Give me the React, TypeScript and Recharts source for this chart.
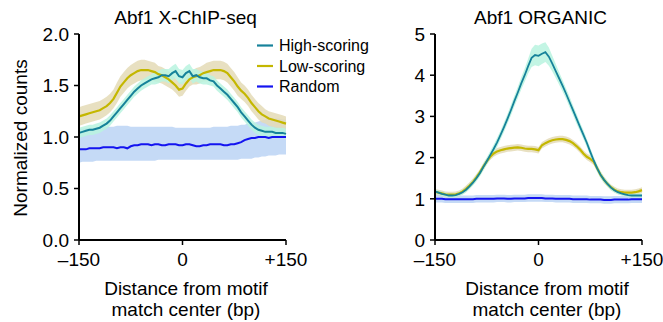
import React from "react";
import { ComposedChart, Area, Line, XAxis, YAxis } from "recharts";

// Distance from motif match center (bp)
const positions = [
  -150, -145, -140, -135, -130, -125, -120, -115, -110, -105, -100, -95, -90, -85, -80, -75, -70, -65, -60, -55,
  -50, -45, -40, -35, -30, -25, -20, -15, -10, -5, 0, 5, 10, 15, 20, 25, 30, 35, 40, 45,
  50, 55, 60, 65, 70, 75, 80, 85, 90, 95, 100, 105, 110, 115, 120, 125, 130, 135, 140, 145, 150,
];

const seriesNames = ["High-scoring", "Low-scoring", "Random"];
const xTicks = [-150, 0, 150];
const xTickLabels = ["\u2013150", "0", "+150"];
const chipTicks = [0, 0.5, 1, 1.5, 2];
const organicTicks = [0, 1, 2, 3, 4, 5];

// ---- Abf1 X-ChIP-seq ----
const chipHigh = [
  1.04, 1.05, 1.06, 1.07, 1.07, 1.08, 1.09, 1.11, 1.13, 1.16, 1.2, 1.24, 1.28, 1.32, 1.36, 1.4, 1.44, 1.47, 1.5, 1.52,
  1.54, 1.56, 1.57, 1.58, 1.6, 1.6, 1.59, 1.62, 1.64, 1.59, 1.58, 1.62, 1.64, 1.59, 1.6, 1.58, 1.57, 1.57, 1.55, 1.54,
  1.5, 1.47, 1.44, 1.41, 1.37, 1.33, 1.29, 1.24, 1.2, 1.16, 1.12, 1.09, 1.07, 1.06, 1.05, 1.05, 1.05, 1.04, 1.04, 1.04, 1.03,
];
const chipHighSpread = [
  0.05, 0.05, 0.05, 0.05, 0.05, 0.05, 0.05, 0.05, 0.05, 0.05, 0.05, 0.05, 0.05, 0.05, 0.05, 0.05, 0.05, 0.05, 0.05, 0.05,
  0.05, 0.05, 0.06, 0.06, 0.06, 0.06, 0.07, 0.07, 0.07, 0.07, 0.07, 0.07, 0.07, 0.07, 0.06, 0.06, 0.06, 0.06, 0.05, 0.05,
  0.05, 0.05, 0.05, 0.05, 0.05, 0.05, 0.05, 0.05, 0.05, 0.05, 0.05, 0.05, 0.05, 0.05, 0.05, 0.05, 0.05, 0.05, 0.05, 0.05, 0.05,
];
const chipLow = [
  1.2, 1.21, 1.22, 1.23, 1.24, 1.25, 1.26, 1.28, 1.3, 1.33, 1.37, 1.43, 1.49, 1.53, 1.57, 1.6, 1.62, 1.64, 1.65, 1.65,
  1.65, 1.64, 1.63, 1.61, 1.6, 1.58, 1.56, 1.53, 1.5, 1.46, 1.47, 1.52, 1.56, 1.58, 1.59, 1.6, 1.62, 1.63, 1.64, 1.65,
  1.65, 1.65, 1.64, 1.62, 1.58, 1.54, 1.49, 1.45, 1.42, 1.38, 1.33, 1.29, 1.25, 1.22, 1.2, 1.18, 1.17, 1.16, 1.15, 1.14, 1.13,
];
const chipLowSpread = [
  0.09, 0.09, 0.09, 0.09, 0.09, 0.09, 0.09, 0.09, 0.09, 0.09, 0.09, 0.1, 0.1, 0.1, 0.1, 0.1, 0.1, 0.1, 0.1, 0.1,
  0.09, 0.09, 0.09, 0.08, 0.08, 0.08, 0.08, 0.07, 0.07, 0.07, 0.07, 0.07, 0.07, 0.07, 0.08, 0.08, 0.08, 0.09, 0.09, 0.09,
  0.09, 0.09, 0.09, 0.09, 0.09, 0.09, 0.09, 0.08, 0.08, 0.08, 0.08, 0.08, 0.08, 0.08, 0.07, 0.07, 0.07, 0.07, 0.07, 0.07, 0.07,
];
const chipRandom = [
  0.88, 0.88, 0.88, 0.89, 0.89, 0.89, 0.89, 0.9, 0.9, 0.9, 0.9, 0.89, 0.9, 0.9, 0.89, 0.91, 0.92, 0.92, 0.93, 0.93,
  0.93, 0.92, 0.93, 0.93, 0.92, 0.92, 0.93, 0.93, 0.93, 0.92, 0.92, 0.93, 0.93, 0.92, 0.91, 0.91, 0.92, 0.92, 0.93, 0.93,
  0.93, 0.93, 0.92, 0.92, 0.93, 0.93, 0.94, 0.95, 0.97, 0.98, 0.99, 0.99, 1.0, 1.0, 1.0, 0.99, 1.0, 1.0, 1.0, 1.0, 1.0,
];
const chipRandomLow = [
  0.75, 0.76, 0.76, 0.76, 0.76, 0.77, 0.77, 0.77, 0.77, 0.77, 0.77, 0.77, 0.77, 0.77, 0.77, 0.77, 0.77, 0.77, 0.77, 0.77,
  0.77, 0.77, 0.77, 0.78, 0.78, 0.78, 0.78, 0.78, 0.78, 0.78, 0.78, 0.78, 0.78, 0.78, 0.78, 0.78, 0.78, 0.78, 0.78, 0.78,
  0.78, 0.78, 0.78, 0.78, 0.78, 0.78, 0.78, 0.79, 0.79, 0.79, 0.79, 0.8, 0.8, 0.81, 0.81, 0.82, 0.82, 0.82, 0.83, 0.83, 0.83,
];
const chipRandomHigh = [
  1.08, 1.08, 1.09, 1.09, 1.09, 1.09, 1.09, 1.1, 1.1, 1.1, 1.1, 1.11, 1.11, 1.11, 1.11, 1.1, 1.1, 1.1, 1.1, 1.1,
  1.1, 1.1, 1.1, 1.1, 1.1, 1.1, 1.1, 1.1, 1.09, 1.09, 1.09, 1.09, 1.09, 1.09, 1.09, 1.09, 1.09, 1.09, 1.09, 1.1,
  1.1, 1.1, 1.1, 1.1, 1.11, 1.11, 1.11, 1.12, 1.12, 1.13, 1.13, 1.14, 1.15, 1.16, 1.17, 1.18, 1.18, 1.18, 1.18, 1.17, 1.17,
];

// ---- Abf1 ORGANIC ----
const orgHigh = [
  1.18, 1.15, 1.12, 1.1, 1.08, 1.08, 1.09, 1.12, 1.16, 1.22, 1.3, 1.39, 1.5, 1.62, 1.77, 1.91, 2.06, 2.21, 2.37, 2.55,
  2.74, 2.94, 3.15, 3.37, 3.58, 3.8, 4.0, 4.22, 4.42, 4.49, 4.47, 4.52, 4.56, 4.45, 4.28, 4.1, 3.92, 3.74, 3.55, 3.35,
  3.15, 2.95, 2.75, 2.56, 2.36, 2.14, 1.93, 1.74, 1.58, 1.46, 1.36, 1.27, 1.21, 1.16, 1.13, 1.11, 1.09, 1.08, 1.08, 1.08, 1.08,
];
const orgHighSpread = [
  0.05, 0.05, 0.05, 0.05, 0.05, 0.05, 0.05, 0.05, 0.06, 0.06, 0.07, 0.07, 0.08, 0.08, 0.09, 0.09, 0.1, 0.1, 0.11, 0.11,
  0.12, 0.12, 0.13, 0.13, 0.14, 0.15, 0.16, 0.18, 0.22, 0.25, 0.25, 0.25, 0.24, 0.22, 0.19, 0.17, 0.15, 0.14, 0.13, 0.13,
  0.12, 0.12, 0.11, 0.11, 0.1, 0.1, 0.09, 0.09, 0.08, 0.07, 0.07, 0.06, 0.06, 0.05, 0.05, 0.05, 0.05, 0.05, 0.05, 0.05, 0.05,
];
const orgLow = [
  1.17, 1.15, 1.13, 1.11, 1.1, 1.1, 1.11, 1.13, 1.18, 1.24, 1.32, 1.41, 1.52, 1.64, 1.78, 1.91, 2.02, 2.1, 2.15, 2.18,
  2.2, 2.22, 2.23, 2.24, 2.25, 2.24, 2.22, 2.21, 2.21, 2.2, 2.18, 2.3, 2.35, 2.39, 2.42, 2.44, 2.45, 2.45, 2.43, 2.4,
  2.35, 2.28, 2.2, 2.1, 2.02, 1.97, 1.9, 1.74, 1.58, 1.46, 1.36, 1.28, 1.22, 1.18, 1.16, 1.15, 1.15, 1.15, 1.16, 1.18, 1.21,
];
const orgLowSpread = [
  0.07, 0.07, 0.07, 0.07, 0.07, 0.07, 0.07, 0.07, 0.07, 0.08, 0.08, 0.08, 0.08, 0.08, 0.08, 0.08, 0.08, 0.08, 0.08, 0.08,
  0.08, 0.08, 0.08, 0.08, 0.08, 0.08, 0.08, 0.08, 0.08, 0.08, 0.08, 0.08, 0.08, 0.08, 0.08, 0.08, 0.08, 0.08, 0.08, 0.08,
  0.08, 0.08, 0.08, 0.08, 0.08, 0.08, 0.08, 0.08, 0.08, 0.08, 0.07, 0.07, 0.07, 0.07, 0.07, 0.07, 0.07, 0.07, 0.07, 0.07, 0.07,
];
const orgRandom = [
  1.0, 1.0, 1.0, 0.99, 0.99, 0.99, 0.99, 0.99, 0.99, 0.99, 0.99, 0.99, 1.0, 1.0, 1.0, 1.0, 1.0, 1.0, 1.01, 1.01,
  1.01, 1.0, 1.0, 1.01, 1.01, 1.01, 1.01, 1.02, 1.02, 1.02, 1.02, 1.02, 1.01, 1.01, 1.01, 1.0, 1.0, 1.0, 1.0, 1.0,
  0.99, 0.99, 0.99, 0.99, 0.99, 0.98, 0.98, 0.98, 0.98, 0.97, 0.97, 0.97, 0.98, 0.98, 0.98, 0.98, 0.98, 0.99, 0.99, 0.99, 0.99,
];
const orgRandomSpread = [
  0.09, 0.09, 0.09, 0.09, 0.09, 0.09, 0.09, 0.09, 0.09, 0.09, 0.09, 0.09, 0.09, 0.09, 0.09, 0.09, 0.09, 0.09, 0.09, 0.09,
  0.09, 0.09, 0.09, 0.09, 0.09, 0.09, 0.09, 0.09, 0.09, 0.09, 0.09, 0.09, 0.09, 0.09, 0.09, 0.09, 0.09, 0.09, 0.09, 0.09,
  0.09, 0.09, 0.09, 0.09, 0.09, 0.09, 0.09, 0.09, 0.09, 0.09, 0.09, 0.09, 0.09, 0.09, 0.09, 0.09, 0.09, 0.09, 0.09, 0.09, 0.09,
];

const COLORS = {
  high: "#16829a",
  highBand: "#b9f3df",
  low: "#c4b700",
  lowBand: "#e4dab6",
  rand: "#1414f0",
  randBand: "#c5daf6",
};

const FONT = "'Liberation Sans', Arial, Helvetica, sans-serif";

const chipData = positions.map((x, i) => ({
  x,
  high: chipHigh[i],
  highBand: [chipHigh[i] - chipHighSpread[i], chipHigh[i] + chipHighSpread[i]],
  low: chipLow[i],
  lowBand: [chipLow[i] - chipLowSpread[i], chipLow[i] + chipLowSpread[i]],
  rand: chipRandom[i],
  randBand: [chipRandomLow[i], chipRandomHigh[i]],
}));

const orgData = positions.map((x, i) => ({
  x,
  high: orgHigh[i],
  highBand: [orgHigh[i] - orgHighSpread[i], orgHigh[i] + orgHighSpread[i]],
  low: orgLow[i],
  lowBand: [orgLow[i] - orgLowSpread[i], orgLow[i] + orgLowSpread[i]],
  rand: orgRandom[i],
  randBand: [orgRandom[i] - orgRandomSpread[i], orgRandom[i] + orgRandomSpread[i]],
}));

const fmtX = (v: number) => xTickLabels[xTicks.indexOf(v)] ?? String(v);

type PanelProps = {
  left: number;
  width: number;
  yAxisWidth: number;
  marginRight: number;
  data: any[];
  yDomain: [number, number];
  yTicks: number[];
  yFmt: (v: number) => string;
  highWidth: number;
};

function Panel(p: PanelProps) {
  const tick = { fill: "#000", fontSize: 19, fontFamily: FONT };
  return (
    <div style={{ position: "absolute", left: p.left, top: 0 }}>
      <ComposedChart
        width={p.width}
        height={322}
        data={p.data}
        margin={{ top: 34, right: p.marginRight, bottom: 52, left: 0 }}
        style={{ overflow: "visible" }}
      >
        <XAxis
          dataKey="x"
          type="number"
          domain={[-150, 150]}
          ticks={xTicks}
          tickFormatter={fmtX}
          height={30}
          tick={tick}
          tickSize={5}
          tickMargin={8}
          axisLine={{ stroke: "#000", strokeWidth: 2 }}
          tickLine={{ stroke: "#000", strokeWidth: 1.5 }}
          interval={0}
        />
        <YAxis
          type="number"
          domain={p.yDomain}
          ticks={p.yTicks}
          tickFormatter={p.yFmt}
          width={p.yAxisWidth}
          tick={tick}
          tickSize={5}
          tickMargin={5}
          axisLine={{ stroke: "#000", strokeWidth: 2 }}
          tickLine={{ stroke: "#000", strokeWidth: 1.5 }}
          interval={0}
          allowDataOverflow
        />
        <Area dataKey="randBand" type="linear" stroke="none" fill={COLORS.randBand} fillOpacity={1} isAnimationActive={false} />
        <Area dataKey="lowBand" type="linear" stroke="none" fill={COLORS.lowBand} fillOpacity={0.85} isAnimationActive={false} />
        <Area dataKey="highBand" type="linear" stroke="none" fill={COLORS.highBand} fillOpacity={0.85} isAnimationActive={false} />
        <Line dataKey="rand" type="linear" stroke={COLORS.rand} strokeWidth={2} dot={false} isAnimationActive={false} />
        <Line dataKey="low" type="linear" stroke={COLORS.low} strokeWidth={2.2} dot={false} isAnimationActive={false} />
        <Line dataKey="high" type="linear" stroke={COLORS.high} strokeWidth={p.highWidth} dot={false} isAnimationActive={false} />
      </ComposedChart>
    </div>
  );
}

export default function App() {
  const legendColors = [COLORS.high, COLORS.low, COLORS.rand];
  const legendY = [45.5, 66, 86.5];
  return (
    <div style={{ position: "absolute", left: 0, top: 0, width: 663, height: 322, background: "#fff", overflow: "hidden" }}>
      <Panel
        left={0}
        width={330}
        yAxisWidth={79}
        marginRight={44}
        data={chipData}
        yDomain={[0, 2]}
        yTicks={chipTicks}
        yFmt={(v) => v.toFixed(1)}
        highWidth={2}
      />
      <Panel
        left={330}
        width={333}
        yAxisWidth={105}
        marginRight={21}
        data={orgData}
        yDomain={[0, 5]}
        yTicks={organicTicks}
        yFmt={(v) => String(v)}
        highWidth={1.8}
      />
      <svg width={663} height={322} style={{ position: "absolute", left: 0, top: 0, pointerEvents: "none" }} fontFamily={FONT}>
        <text x={185.5} y={24} textAnchor="middle" fontSize={19} fill="#000">Abf1 X-ChIP-seq</text>
        <text x={540.5} y={24} textAnchor="middle" fontSize={19} fill="#000">Abf1 ORGANIC</text>
        <text x={27} y={138} textAnchor="middle" fontSize={19} fill="#000" transform="rotate(-90 27 138)">Normalized counts</text>
        <text x={186} y={295} textAnchor="middle" fontSize={19} fill="#000">Distance from motif</text>
        <text x={186} y={316} textAnchor="middle" fontSize={19} fill="#000">match center (bp)</text>
        <text x={547} y={295} textAnchor="middle" fontSize={19} fill="#000">Distance from motif</text>
        <text x={547} y={316} textAnchor="middle" fontSize={19} fill="#000">match center (bp)</text>
        {seriesNames.map((name, i) => (
          <g key={name}>
            <line x1={257} x2={273} y1={legendY[i]} y2={legendY[i]} stroke={legendColors[i]} strokeWidth={2.2} />
            <text x={279} y={legendY[i] + 5.8} fontSize={16} fill="#000">{name}</text>
          </g>
        ))}
      </svg>
    </div>
  );
}
